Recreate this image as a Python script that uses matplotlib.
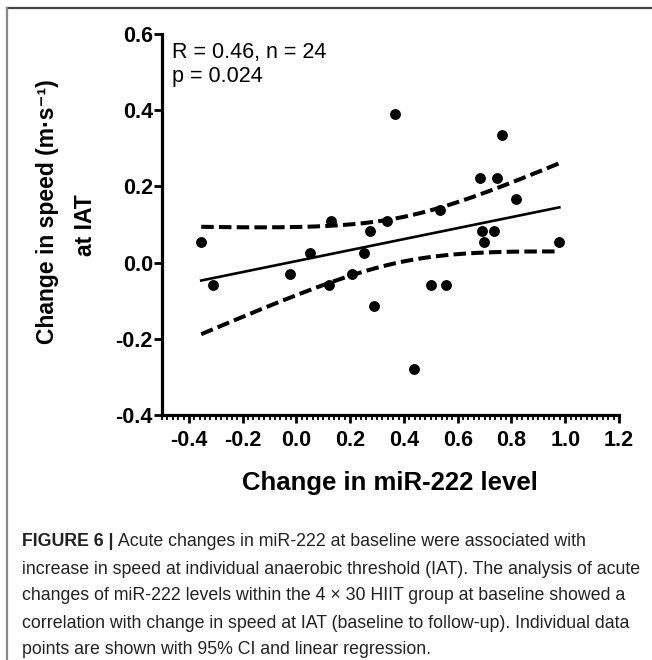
import numpy as np
import matplotlib
matplotlib.use("Agg")
import matplotlib.pyplot as plt
from matplotlib.ticker import MultipleLocator
from matplotlib.lines import Line2D

# ---- data ----
mir222_change = [-0.354, -0.31, -0.022, 0.049, 0.12, 0.13, 0.205, 0.253,
                 0.272, 0.288, 0.336, 0.366, 0.437, 0.5, 0.534, 0.556,
                 0.683, 0.69, 0.698, 0.735, 0.746, 0.765, 0.817, 0.978]
speed_change = [0.053, -0.058, -0.029, 0.026, -0.058, 0.11, -0.029, 0.026,
                0.082, -0.113, 0.11, 0.389, -0.28, -0.058, 0.137, -0.058,
                0.221, 0.082, 0.053, 0.082, 0.221, 0.334, 0.166, 0.053]
x_ticks = [-0.4, -0.2, 0.0, 0.2, 0.4, 0.6, 0.8, 1.0, 1.2]
y_ticks = [-0.4, -0.2, 0.0, 0.2, 0.4, 0.6]
stats_lines = ["R = 0.46, n = 24", "p = 0.024"]
x_label = "Change in miR-222 level"
y_label_lines = ["Change in speed (m\u00b7s\u207b\u00b9)", "at IAT"]
caption_bold = "FIGURE 6 |"
caption_lines = [
    " Acute changes in miR-222 at baseline were associated with",
    "increase in speed at individual anaerobic threshold (IAT). The analysis of acute",
    "changes of miR-222 levels within the 4 \u00d7 30 HIIT group at baseline showed a",
    "correlation with change in speed at IAT (baseline to follow-up). Individual data",
    "points are shown with 95% CI and linear regression.",
]

x = np.array(mir222_change)
y = np.array(speed_change)

# linear regression and 95% CI of the mean
n = len(x)
slope, intercept = np.polyfit(x, y, 1)
xs = np.linspace(x.min(), x.max(), 200)
yfit = intercept + slope * xs
resid = y - (intercept + slope * x)
s = np.sqrt(np.sum(resid**2) / (n - 2))
sxx = np.sum((x - x.mean())**2)
tcrit = 2.0739  # t(0.975, 22)
se = s * np.sqrt(1.0 / n + (xs - x.mean())**2 / sxx)
upper = yfit + tcrit * se
lower = yfit - tcrit * se

plt.rcParams['font.family'] = ['Liberation Sans', 'DejaVu Sans']

W, H = 652, 660
fig = plt.figure(figsize=(W / 100, H / 100), dpi=100)
ax = fig.add_axes([162 / W, 1 - 415 / H, (619 - 162) / W, (415 - 34) / H])

ax.plot(x, y, 'o', color='black', markersize=6.8, zorder=3)
ax.plot(xs, yfit, '-', color='black', lw=1.9)
ax.plot(xs, upper, color='black', lw=2.9, dashes=(3.1, 1.3))
ax.plot(xs, lower, color='black', lw=2.9, dashes=(3.1, 1.3))

ax.set_xlim(-0.5, 1.2)
ax.set_ylim(-0.4, 0.6)
ax.set_xticks(x_ticks)
ax.set_yticks(y_ticks)
ax.xaxis.set_minor_locator(MultipleLocator(0.02))
ax.set_xticklabels([f"{v:.1f}" for v in x_ticks])
ax.set_yticklabels([f"{v:.1f}" for v in y_ticks])

for sp in ['top', 'right']:
    ax.spines[sp].set_visible(False)
for sp in ['left', 'bottom']:
    ax.spines[sp].set_linewidth(2.3)
ax.tick_params(axis='both', which='major', direction='out', length=5.5, width=2,
               labelsize=15.5)
ax.tick_params(axis='y', which='major', pad=1)
ax.tick_params(axis='x', which='major', pad=5)
ax.tick_params(axis='x', which='minor', direction='out', length=3.5, width=1.3)
for lab in ax.get_xticklabels() + ax.get_yticklabels():
    lab.set_fontweight('bold')

# axis labels
fig.text(390 / W, 1 - 490 / H, x_label, fontsize=18.5, fontweight='bold',
         ha='center', va='baseline')
fig.text(48 / W, 1 - 212 / H, y_label_lines[0], fontsize=16.5, fontweight='bold',
         ha='center', va='center', rotation=90)
fig.text(86 / W, 1 - 225 / H, y_label_lines[1], fontsize=16.5, fontweight='bold',
         ha='center', va='center', rotation=90)

# statistics text
fig.text(172 / W, 1 - 58 / H, stats_lines[0], fontsize=15.5, ha='left', va='baseline')
fig.text(172 / W, 1 - 82 / H, stats_lines[1], fontsize=15.5, ha='left', va='baseline')

# frame lines of the figure panel
fig.add_artist(Line2D([7 / W, 1.0], [1 - 8 / H, 1 - 8 / H], transform=fig.transFigure,
                      color='#444444', lw=1.6))
fig.add_artist(Line2D([7 / W, 7 / W], [0, 1 - 8 / H], transform=fig.transFigure,
                      color='#888888', lw=1.6))

# caption
cap_family = ['Liberation Sans Narrow', 'Liberation Sans', 'DejaVu Sans']
cap_size = 12.8
x0 = 22 / W
line_y = [541, 569, 596, 623, 650]
tb = fig.text(x0, 1 - line_y[0] / H, caption_bold, fontsize=cap_size, fontweight='bold',
              family=cap_family, va='center', ha='left', color='#222222')
fig.canvas.draw()
bb = tb.get_window_extent(renderer=fig.canvas.get_renderer())
x1 = bb.x1 / fig.bbox.width
fig.text(x1, 1 - line_y[0] / H, caption_lines[0], fontsize=cap_size, family=cap_family,
         va='center', ha='left', color='#222222')
for yy, line in zip(line_y[1:], caption_lines[1:]):
    fig.text(x0, 1 - yy / H, line, fontsize=cap_size, family=cap_family,
             va='center', ha='left', color='#222222')

fig.savefig("out.png", dpi=100)
